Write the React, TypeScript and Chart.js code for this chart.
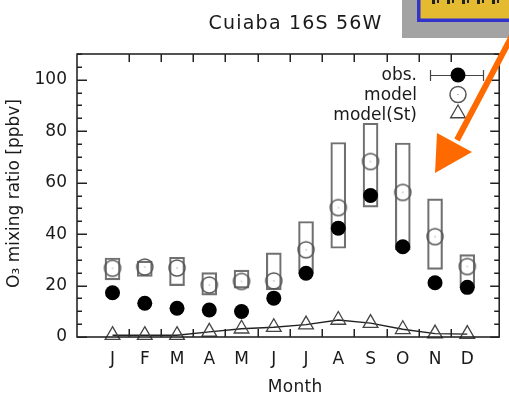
import React, { useEffect, useRef } from 'react';
import { Chart, registerables } from 'chart.js';
Chart.register(...registerables);

const months = ['J', 'F', 'M', 'A', 'M', 'J', 'J', 'A', 'S', 'O', 'N', 'D'];
const obs = [17.2, 13.1, 11.2, 10.5, 9.9, 15.1, 24.8, 42.3, 55.0, 35.1, 21.1, 19.3];
const model = [26.7, 27.2, 26.8, 20.2, 21.6, 21.8, 33.9, 50.3, 68.2, 56.2, 39.0, 27.4];
const modelLow = [22.2, 23.5, 20.0, 16.3, 19.0, 18.3, 24.8, 34.5, 50.5, 33.9, 26.3, 19.6];
const modelHigh = [30.7, 29.5, 31.0, 25.0, 26.0, 32.7, 44.9, 75.6, 83.1, 75.4, 53.7, 32.0];
const modelSt = [0.7, 0.7, 0.7, 2.0, 3.2, 3.8, 4.8, 6.6, 5.4, 3.0, 1.3, 1.1];
const yTicks = [0, 20, 40, 60, 80, 100];
const yMinorStep = 5;
const legendLabels = ['obs.', 'model', 'model(St)'];
const titleText = 'Cuiaba 16S 56W';
const xTitle = 'Month';
const yTitle = 'O\u2083 mixing ratio [ppbv]';

const FONT = '"DejaVu Sans", sans-serif';
const INK = '#1a1a1a';

function makeOpenCircle(r: number, color: string, lw: number) {
  const c = document.createElement('canvas');
  const s = 2 * Math.ceil(r + lw / 2 + 1);
  c.width = s;
  c.height = s;
  const ctx = c.getContext('2d')!;
  ctx.strokeStyle = color;
  ctx.lineWidth = lw;
  ctx.beginPath();
  ctx.arc(s / 2, s / 2, r, 0, Math.PI * 2);
  ctx.stroke();
  ctx.fillStyle = '#777';
  ctx.fillRect(s / 2 - 0.5, s / 2 - 0.5, 1, 1);
  return c;
}

function drawTriangle(ctx: CanvasRenderingContext2D, x: number, y: number, r: number) {
  ctx.beginPath();
  ctx.moveTo(x, y - r);
  ctx.lineTo(x + r * Math.sin(Math.PI / 3), y + r / 2);
  ctx.lineTo(x - r * Math.sin(Math.PI / 3), y + r / 2);
  ctx.closePath();
  ctx.stroke();
}

function spacedText(ctx: any, text: string, x: number, y: number, spacing: number, align: string) {
  ctx.save();
  try {
    ctx.letterSpacing = spacing + 'px';
  } catch (e) {}
  const w = ctx.measureText(text).width;
  ctx.textAlign = 'left';
  let sx = x;
  if (align === 'center') sx = x - (w - spacing) / 2;
  else if (align === 'right') sx = x - (w - spacing);
  ctx.fillText(text, sx, y);
  ctx.restore();
}

const framePlugin = {
  id: 'frame',
  afterDraw(chart: any) {
    const ctx: any = chart.ctx;
    const a = chart.chartArea;
    const xs = chart.scales.x;
    const ys = chart.scales.y;

    // frame and inward ticks
    ctx.save();
    ctx.strokeStyle = INK;
    ctx.lineWidth = 1.5;
    ctx.strokeRect(a.left, a.top, a.right - a.left, a.bottom - a.top);
    ctx.fillStyle = '#222';
    for (let v = 0; v <= ys.max; v += yMinorStep) {
      const py = Math.round(ys.getPixelForValue(v)) - 0.5;
      const major = yTicks.indexOf(v) >= 0;
      ctx.fillRect(a.left, py, major ? 10 : 5, 1.5);
      ctx.fillRect(a.right - (major ? 9 : 5), py, major ? 9 : 5, 1.5);
    }
    for (let i = 1; i < months.length; i++) {
      const px = Math.round(xs.getPixelForValue(i + 0.5)) - 0.5;
      ctx.fillRect(px, a.bottom - 8, 1.5, 8);
      ctx.fillRect(px, a.top, 1.5, 8);
    }
    ctx.restore();

    ctx.save();
    ctx.fillStyle = INK;
    ctx.textBaseline = 'alphabetic';
    ctx.font = `19px ${FONT}`;
    spacedText(ctx, titleText, 295, 28.5, 1.2, 'center');
    ctx.font = `17px ${FONT}`;
    spacedText(ctx, xTitle, 295, 392, 0.3, 'center');
    ctx.save();
    ctx.translate(18.5, (a.top + a.bottom) / 2 - 2);
    ctx.rotate(-Math.PI / 2);
    spacedText(ctx, yTitle, 0, 0, 0, 'center');
    ctx.restore();

    // legend
    const lx = 417;
    const sx = 458;
    const baselines = [80, 100, 120];
    legendLabels.forEach((t, i) => spacedText(ctx, t, lx, baselines[i], 0, 'right'));
    ctx.strokeStyle = '#444';
    ctx.lineWidth = 1.2;
    ctx.beginPath();
    ctx.moveTo(430, 75.5);
    ctx.lineTo(484, 75.5);
    ctx.moveTo(430.5, 70);
    ctx.lineTo(430.5, 81);
    ctx.moveTo(483.5, 70);
    ctx.lineTo(483.5, 81);
    ctx.stroke();
    ctx.fillStyle = '#000';
    ctx.beginPath();
    ctx.arc(sx, 75, 7.5, 0, Math.PI * 2);
    ctx.fill();
    ctx.strokeStyle = '#555';
    ctx.lineWidth = 1.5;
    ctx.beginPath();
    ctx.arc(sx, 94.5, 8, 0, Math.PI * 2);
    ctx.stroke();
    ctx.fillStyle = '#777';
    ctx.fillRect(sx - 0.5, 94, 1, 1);
    ctx.strokeStyle = '#444';
    ctx.lineWidth = 1.3;
    drawTriangle(ctx, sx, 113.5, 8.5);

    // overlay: grey box with inset image and orange arrow
    ctx.fillStyle = '#a3a3a3';
    ctx.fillRect(402, 0, 120, 38);
    ctx.fillStyle = '#e4bb30';
    ctx.fillRect(417, -5, 110, 27);
    ctx.strokeStyle = '#3333cc';
    ctx.lineWidth = 3.5;
    ctx.strokeRect(418.75, -5, 110, 25.25);
    ctx.fillStyle = '#222';
    for (let k = 0; k < 5; k++) {
      ctx.fillRect(432 + k * 15, 0, 3, 4);
      ctx.fillRect(437 + k * 15, 0, 2, 3);
    }
    ctx.strokeStyle = '#ff6a00';
    ctx.fillStyle = '#ff6a00';
    ctx.lineWidth = 6;
    ctx.lineCap = 'butt';
    ctx.beginPath();
    ctx.moveTo(513, 34);
    ctx.lineTo(457, 140);
    ctx.stroke();
    ctx.beginPath();
    ctx.moveTo(437, 133);
    ctx.lineTo(472, 152);
    ctx.lineTo(435, 173);
    ctx.closePath();
    ctx.fill();
    ctx.restore();
  },
};

export default function App() {
  const ref = useRef<HTMLCanvasElement>(null);
  useEffect(() => {
    document.body.style.margin = '0';
    const canvas = ref.current!;
    const openCircle = makeOpenCircle(8, '#555', 1.5);
    const tickFont = { family: FONT, size: 17 };
    const chart = new Chart(canvas, {
      type: 'line',
      data: {
        datasets: [
          {
            type: 'bar',
            label: 'range',
            data: months.map((_, i) => ({ x: i + 1, y: [modelLow[i], modelHigh[i]] })) as any,
            backgroundColor: 'rgba(0,0,0,0)',
            borderColor: '#707070',
            borderWidth: 1.5,
            borderSkipped: false,
            barThickness: 15,
            order: 4,
            clip: false,
          } as any,
          {
            type: 'line',
            label: legendLabels[2],
            data: months.map((_, i) => ({ x: i + 1, y: modelSt[i] })),
            borderColor: '#222',
            borderWidth: 1.4,
            pointStyle: 'triangle',
            pointRadius: 8.5,
            pointBorderColor: '#444',
            pointBackgroundColor: 'rgba(0,0,0,0)',
            pointBorderWidth: 1.3,
            tension: 0,
            order: 3,
            clip: false,
          } as any,
          {
            type: 'line',
            label: legendLabels[1],
            data: months.map((_, i) => ({ x: i + 1, y: model[i] })),
            showLine: false,
            pointStyle: openCircle,
            pointRadius: 8,
            order: 2,
            clip: false,
          } as any,
          {
            type: 'line',
            label: legendLabels[0],
            data: months.map((_, i) => ({ x: i + 1, y: obs[i] })),
            showLine: false,
            pointStyle: 'circle',
            pointRadius: 7.5,
            pointBackgroundColor: '#000',
            pointBorderColor: '#000',
            pointBorderWidth: 0,
            order: 1,
            clip: false,
          } as any,
        ],
      },
      options: {
        animation: false,
        responsive: false,
        devicePixelRatio: 1,
        layout: { padding: { top: 54, right: 0, bottom: 0, left: 0 } },
        plugins: { legend: { display: false }, title: { display: false }, tooltip: { enabled: false } },
        scales: {
          x: {
            type: 'linear',
            min: 0.444,
            max: 12.444,
            grid: { display: false, drawTicks: false },
            border: { display: false },
            afterBuildTicks: (s: any) => {
              s.ticks = months.map((_, i) => ({ value: i + 1 }));
            },
            afterFit: (s: any) => {
              s.height = 56;
              s.paddingLeft = 0;
              s.paddingRight = 0;
            },
            ticks: {
              callback: (v: any) => months[Math.round(v) - 1] ?? '',
              font: tickFont,
              color: INK,
              padding: 12,
              maxRotation: 0,
              autoSkip: false,
            },
          },
          y: {
            type: 'linear',
            min: 0,
            max: 110,
            grid: { display: false, drawTicks: false },
            border: { display: false },
            afterBuildTicks: (s: any) => {
              s.ticks = yTicks.map((v) => ({ value: v }));
            },
            afterFit: (s: any) => {
              s.width = 77;
              s.paddingTop = 0;
              s.paddingBottom = 0;
            },
            ticks: { font: tickFont, color: INK, padding: 10 },
          },
        },
      } as any,
      plugins: [framePlugin],
    });
    return () => chart.destroy();
  }, []);
  return (
    <div style={{ width: 509, height: 393 }}>
      <canvas ref={ref} width={509} height={393} style={{ display: 'block' }} />
    </div>
  );
}
